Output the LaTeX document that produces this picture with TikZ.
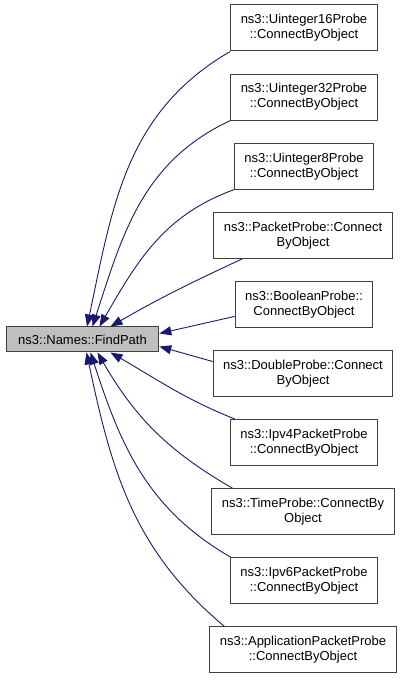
\documentclass[tikz,border=0pt]{standalone}
\usepackage{fontspec}
\setmainfont{Liberation Sans}
\usetikzlibrary{arrows.meta}
\definecolor{callblue}{RGB}{25,25,112}
\definecolor{boxgray}{RGB}{191,191,191}
\tikzset{
    fn/.style={draw=black!75, line width=1pt, fill=white, align=center,
        inner xsep=10pt, inner ysep=0pt, minimum height=46pt,
        font=\fontsize{13}{15}\selectfont},
    current/.style={fn, fill=boxgray, minimum height=25pt, inner xsep=12pt},
    call/.style={draw=callblue, line width=0.9pt,
        -{Triangle[length=12pt,width=9pt]}},
}
\begin{document}
\begin{tikzpicture}[x=1pt, y=1pt]
	\useasboundingbox (0,0) rectangle (405,680);
	\node[current] (find) at (82.5,340.5) {ns3::Names::FindPath};
	\node[fn] (u16) at (304,652) {ns3::Uinteger16Probe\\::ConnectByObject};
	\node[fn] (u32) at (304,582.9) {ns3::Uinteger32Probe\\::ConnectByObject};
	\node[fn] (u8) at (304,513.8) {ns3::Uinteger8Probe\\::ConnectByObject};
	\node[fn] (packet) at (303,444.7) {ns3::PacketProbe::Connect\\ByObject};
	\node[fn] (bool) at (304,375.6) {ns3::BooleanProbe::\\ConnectByObject};
	\node[fn] (double) at (303,306.5) {ns3::DoubleProbe::Connect\\ByObject};
	\node[fn] (ipv4) at (304,237.4) {ns3::Ipv4PacketProbe\\::ConnectByObject};
	\node[fn] (time) at (303,168.3) {ns3::TimeProbe::ConnectBy\\Object};
	\node[fn] (ipv6) at (304,99.2) {ns3::Ipv6PacketProbe\\::ConnectByObject};
	\node[fn] (app) at (303,30.1) {ns3::ApplicationPacketProbe\\::ConnectByObject};
	% callers above
	\draw[call] (u16.south west) to[out=210, in=78] ([xshift=4.5]find.north);
	\draw[call] (u32.south west) to[out=205, in=72] ([xshift=10]find.north);
	\draw[call] (u8.south west) to[out=200, in=60] ([xshift=17]find.north);
	\draw[call] ([xshift=29]packet.south west) to[out=205, in=30] ([xshift=28]find.north);
	\draw[call] ([yshift=-12]bool.west) -- ([yshift=6]find.east);
	% callers below
	\draw[call] ([yshift=12]double.west) -- ([yshift=-7]find.east);
	\draw[call] ([xshift=5]ipv4.north west) to[out=158, in=-30] ([xshift=28]find.south);
	\draw[call] ([xshift=21]time.north west) to[out=150, in=-60] ([xshift=15]find.south);
	\draw[call] ([xshift=1]ipv6.north west) to[out=150, in=-72] ([xshift=8]find.south);
	\draw[call] ([xshift=15]app.north west) to[out=140, in=-78] ([xshift=4]find.south);
\end{tikzpicture}
\end{document}
